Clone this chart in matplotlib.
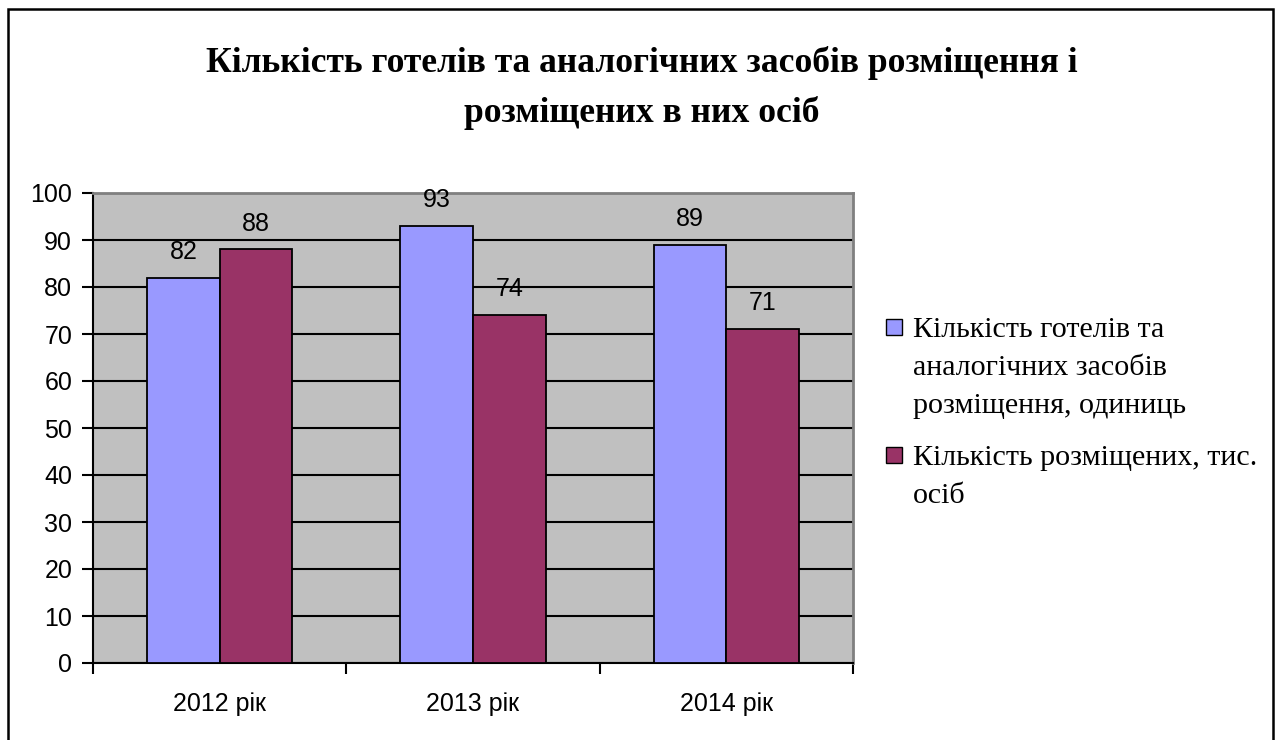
import matplotlib
matplotlib.use("Agg")
import matplotlib.pyplot as plt
from matplotlib.patches import Rectangle

# data
years = ["2012 рік", "2013 рік", "2014 рік"]
hotels = [82, 93, 89]
guests = [88, 74, 71]
series_names = ["Кількість готелів та\nаналогічних засобів\nрозміщення, одиниць",
                "Кількість розміщених, тис.\nосіб"]
title_lines = ["Кількість готелів та аналогічних засобів розміщення і",
               "розміщених в них осіб"]
colors = ["#9999FF", "#993366"]

W, H = 1280, 740
fig = plt.figure(figsize=(W / 100, H / 100), dpi=100)

# outer frame of the chart object (bottom runs off the picture)
fig.patches.append(Rectangle((8 / W, -0.05), 1265 / W, 1 - 9 / H + 0.05,
                             transform=fig.transFigure, fill=False,
                             edgecolor="black", linewidth=1.8))

ax = fig.add_axes([93 / W, 1 - 663 / H, 760 / W, 470 / H])
ax.set_facecolor("#C0C0C0")

x = list(range(len(years)))
bw = 0.287
for k, (vals, c) in enumerate(zip([hotels, guests], colors)):
    pos = [i + (k - 0.5) * bw for i in x]
    bars = ax.bar(pos, vals, width=bw, color=c, edgecolor="black",
                  linewidth=1.3, zorder=3)
    for b, v in zip(bars, vals):
        ax.annotate(str(v), (b.get_x() + b.get_width() / 2, v),
                    xytext=(0, 10), textcoords="offset points",
                    ha="center", va="bottom", fontsize=18,
                    family="Liberation Sans", zorder=4)

ax.set_xlim(-0.5, len(years) - 0.5)
ax.set_ylim(0, 100)
ax.set_yticks(range(0, 101, 10))
ax.yaxis.grid(True, color="black", linewidth=1.5, zorder=1)
ax.set_axisbelow(True)

# ticks on category borders, labels in the middle
ax.set_xticks([i - 0.5 for i in range(len(years) + 1)])
ax.set_xticklabels([])
ax.set_xticks(x, minor=True)
ax.set_xticklabels(years, minor=True)
ax.tick_params(axis="x", which="major", length=8, width=1.5, direction="out")
ax.tick_params(axis="x", which="minor", length=0, pad=21)
ax.tick_params(axis="y", length=8, width=1.5, pad=7)
for lab in ax.get_xticklabels(minor=True) + ax.get_yticklabels():
    lab.set_fontsize(18)
    lab.set_family("Liberation Sans")

for s in ["left", "bottom"]:
    ax.spines[s].set_color("black")
    ax.spines[s].set_linewidth(1.5)
for s in ["top", "right"]:
    ax.spines[s].set_color("#808080")
    ax.spines[s].set_linewidth(2)

# title, two lines
for y, line in zip([72, 122], title_lines):
    fig.text(642 / W, 1 - y / H, line, ha="center", va="baseline",
             fontsize=25.6, fontweight="bold", family="Liberation Serif")

# legend drawn by hand, handle aligned with the first line
base = 337
for name, c in zip(series_names, colors):
    fig.patches.append(Rectangle((886 / W, 1 - (base - 2) / H), 16 / W, 16 / H,
                                 transform=fig.transFigure, facecolor=c,
                                 edgecolor="black", linewidth=1))
    lines = name.split("\n")
    for j, line in enumerate(lines):
        fig.text(913 / W, 1 - (base + j * 38) / H, line, ha="left",
                 va="baseline", fontsize=21.6, family="Liberation Serif")
    base += (len(lines) - 1) * 38 + 52

fig.savefig("out.png", dpi=100)
